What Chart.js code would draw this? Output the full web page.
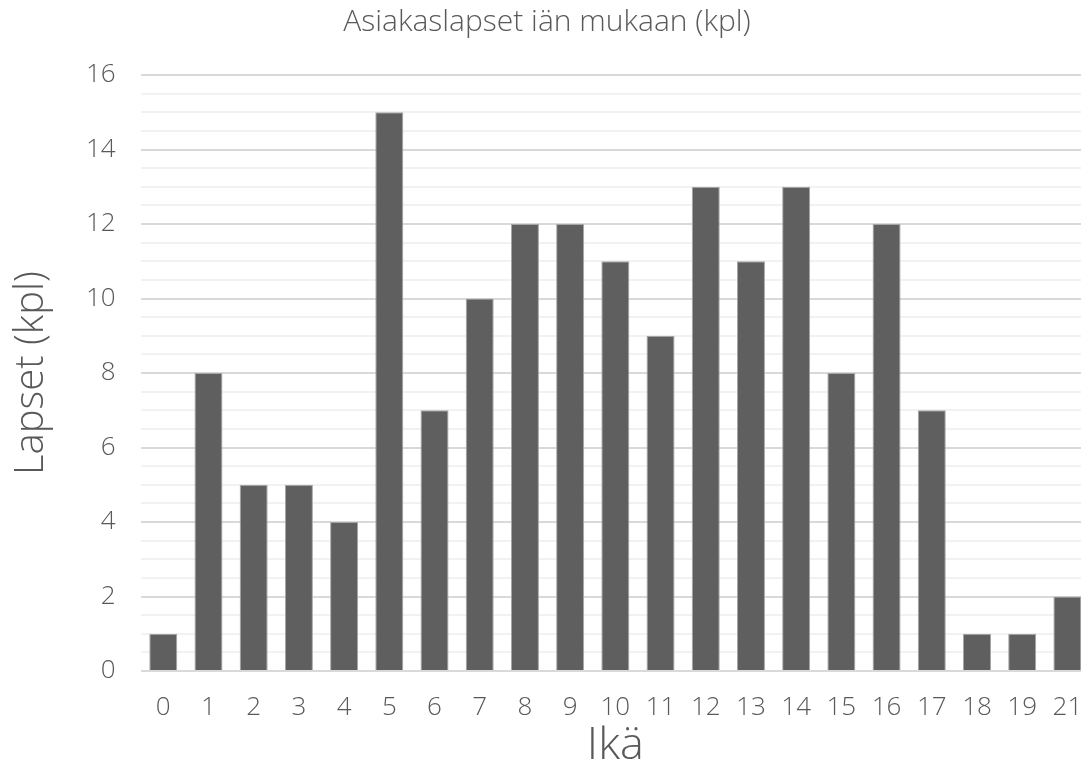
<!DOCTYPE html>
<html>
<head>
<meta charset="utf-8">
<script src="https://cdn.jsdelivr.net/npm/chart.js@4"></script>
<style>
  html, body { margin: 0; padding: 0; background: #fff; overflow: hidden; }
  #wrap { width: 1090px; height: 776px; }
</style>
</head>
<body>
<div id="wrap"><canvas id="myChart"></canvas></div>
<script>
const ages = ['0','1','2','3','4','5','6','7','8','9','10','11','12','13','14','15','16','17','18','19','21'];
const lapset = [1,8,5,5,4,15,7,10,12,12,11,9,13,11,13,8,12,7,1,1,2];

const font = "'Open Sans', Lato, sans-serif";
const grey = '#595959';

const ctx = document.getElementById('myChart');

new Chart(ctx, {
  type: 'bar',
  data: {
    labels: ages,
    datasets: [{
      label: 'Lapset',
      data: lapset,
      backgroundColor: '#5f5f5f',
      borderColor: '#a6a6a6',
      borderWidth: 1,
      categoryPercentage: 1,
      barPercentage: 0.62,
    }]
  },
  options: {
    responsive: true,
    maintainAspectRatio: false,
    animation: false,
    layout: { padding: { top: 4, right: 0, bottom: 0, left: 4 } },
    plugins: {
      legend: { display: false },
      tooltip: { enabled: false },
      title: {
        display: true,
        text: 'Asiakaslapset iän mukaan (kpl)',
        color: grey,
        font: { family: font, size: 30, weight: '300' },
        padding: { top: 0, bottom: 35 }
      }
    },
    scales: {
      x: {
        grid: { color: 'transparent', drawTicks: true, tickLength: 17 },
        border: { display: false },
        ticks: {
          color: grey,
          font: { family: font, size: 26, weight: '300', lineHeight: '40px' },
          maxRotation: 0,
          autoSkip: false,
          padding: 0
        },
        title: {
          display: true,
          text: 'Ikä',
          color: grey,
          font: { family: font, size: 45, weight: '300', lineHeight: '36px' },
          padding: { top: 0, bottom: 12 }
        }
      },
      y: {
        min: 0,
        max: 16,
        border: { display: false },
        grid: {
          drawTicks: false,
          lineWidth: 2,
          color: c => (c.tick && c.tick.value % 2 === 0) ? '#d9d9d9' : '#f2f2f2'
        },
        ticks: {
          stepSize: 0.5,
          autoSkip: false,
          color: grey,
          padding: 25,
          font: { family: font, size: 26, weight: '300' },
          callback: v => (v % 2 === 0) ? v : ''
        },
        title: {
          display: true,
          text: 'Lapset (kpl)',
          color: grey,
          font: { family: font, size: 40, weight: '300', lineHeight: 1 },
          padding: { top: 8, bottom: 9 }
        }
      }
    }
  }
});
</script>
</body>
</html>
